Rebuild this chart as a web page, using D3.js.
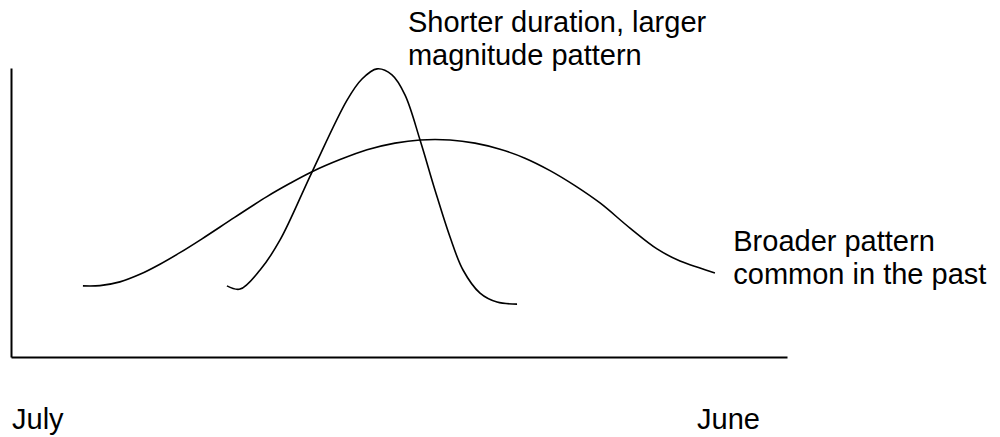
<!DOCTYPE html>
<html>
<head>
<meta charset="utf-8">
<script src="https://cdn.jsdelivr.net/npm/d3@7"></script>
<style>
  body { margin: 0; background: #fff; }
  text { font-family: "Liberation Sans", Arial, sans-serif; fill: #000; }
</style>
</head>
<body>
<svg id="chart" width="1000" height="437"></svg>
<script>
// x in weeks from start of July, y in relative magnitude
const broadX = [4.82, 5.96, 7.30, 8.64, 9.98, 11.32, 12.80, 15.01, 17.15, 18.70, 20.17, 22.05, 23.86, 25.73, 27.41, 29.42, 31.09, 32.77, 34.44, 36.12, 37.79, 39.47, 41.48, 43.29, 44.83, 46.17, 47.17];
const broadY = [2.46, 2.47, 2.60, 2.86, 3.21, 3.61, 4.09, 4.84, 5.55, 6.01, 6.41, 6.83, 7.17, 7.40, 7.51, 7.51, 7.40, 7.19, 6.88, 6.45, 5.93, 5.33, 4.46, 3.74, 3.32, 3.08, 2.91];

const narrowX = [14.47, 15.35, 16.69, 18.03, 20.17, 22.52, 23.52, 24.53, 25.53, 26.40, 27.41, 28.41, 29.42, 30.29, 31.43, 32.57, 33.91];
const narrowY = [2.46, 2.35, 3.01, 4.05, 6.40, 8.89, 9.62, 9.97, 9.76, 9.07, 7.51, 5.78, 4.15, 3.01, 2.21, 1.90, 1.83];

const monthLabels = ["July", "June"];
const monthPos = [0.07, 45.97];

const notes = [
  { lines: ["Shorter duration, larger", "magnitude pattern"], x: 26.6, y: 11.25 },
  { lines: ["Broader pattern", "common in the past"], x: 48.4, y: 3.67 }
];

const svg = d3.select("#chart");

const x = d3.scaleLinear().domain([0, 52]).range([11, 787]);
const y = d3.scaleLinear().domain([0, 10]).range([357, 68]);

// axes, plain lines with no ticks
svg.append("g")
  .attr("transform", "translate(0," + y(0) + ")")
  .call(d3.axisBottom(x).tickValues([]).tickSizeOuter(0))
  .call((g) => g.select(".domain").attr("stroke", "#000").attr("stroke-width", 2));

svg.append("g")
  .attr("transform", "translate(" + x(0) + ",0)")
  .call(d3.axisLeft(y).tickValues([]).tickSizeOuter(0))
  .call((g) => g.select(".domain").attr("stroke", "#000").attr("stroke-width", 2));

const line = d3.line()
  .x((d) => x(d[0]))
  .y((d) => y(d[1]))
  .curve(d3.curveCatmullRom.alpha(0.5));

[[broadX, broadY], [narrowX, narrowY]].forEach((s) => {
  svg.append("path")
    .datum(d3.zip(s[0], s[1]))
    .attr("fill", "none")
    .attr("stroke", "#000")
    .attr("stroke-width", 1.6)
    .attr("d", line);
});

// month labels under the axis
svg.selectAll(".month")
  .data(monthLabels)
  .join("text")
  .attr("class", "month")
  .attr("x", (d, i) => x(monthPos[i]))
  .attr("y", 429)
  .attr("font-size", 29)
  .text((d) => d);

notes.forEach((n) => {
  const t = svg.append("text")
    .attr("x", x(n.x))
    .attr("y", y(n.y))
    .attr("font-size", 29);
  t.selectAll("tspan")
    .data(n.lines)
    .join("tspan")
    .attr("x", x(n.x))
    .attr("dy", (d, i) => (i == 0 ? 0 : 33))
    .text((d) => d);
});
</script>
</body>
</html>
